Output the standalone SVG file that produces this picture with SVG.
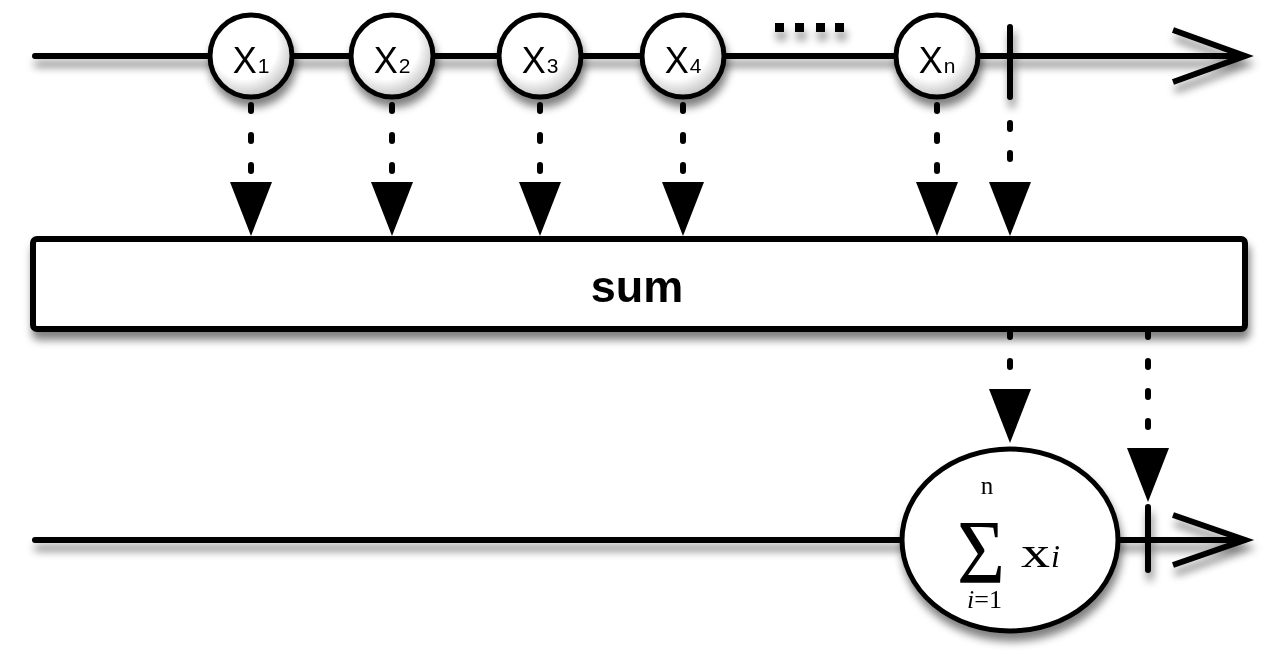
<svg xmlns="http://www.w3.org/2000/svg" width="1280" height="660" viewBox="0 0 1280 660">
<style>
.line{stroke:#000;stroke-width:6;fill:none;stroke-linecap:round}
.chev{stroke:#000;stroke-width:6;fill:none;stroke-linejoin:miter;stroke-linecap:butt}
.node{fill:url(#ball);stroke:#000;stroke-width:5}
.lbl{font-family:"Liberation Sans",Arial,sans-serif;fill:#000}
.dash{stroke:#000;stroke-width:6;fill:none;stroke-linecap:round;stroke-dasharray:6 24}
.serif{font-family:"Liberation Serif","Times New Roman",serif;fill:#000}
</style>
<defs>
<filter id="shadow" x="-20%" y="-40%" width="140%" height="200%">
<feGaussianBlur in="SourceAlpha" stdDeviation="4"/>
<feOffset dx="2" dy="8" result="b"/>
<feComponentTransfer><feFuncA type="linear" slope="0.5"/></feComponentTransfer>
<feMerge><feMergeNode/><feMergeNode in="SourceGraphic"/></feMerge>
</filter>
<radialGradient id="ball" cx="0.42" cy="0.38" r="0.62">
<stop offset="0" stop-color="#fff"/>
<stop offset="0.65" stop-color="#fff"/>
<stop offset="1" stop-color="#c4c4c4"/>
</radialGradient>
<marker id="tri" markerUnits="userSpaceOnUse" markerWidth="54" markerHeight="42" viewBox="0 0 54 42" refX="0" refY="21" orient="auto">
<path d="M0,0 L54,21 L0,42 Z" fill="#000"/>
</marker>
</defs>
<rect width="1280" height="660" fill="#fff"/>

<g id="source-timeline" filter="url(#shadow)">
<line class="line" x1="35" y1="56" x2="1244" y2="56"/>
<polyline class="chev" points="1173,30 1245,56 1173,82"/>
<line class="line" x1="1010" y1="27" x2="1010" y2="97"/>
<g fill="#000">
<rect x="775" y="23" width="9" height="9"/>
<rect x="795" y="23" width="9" height="9"/>
<rect x="816" y="23" width="9" height="9"/>
<rect x="835" y="23" width="9" height="9"/>
</g>
</g>

<g id="connectors">
<line class="dash" x1="251" y1="105" x2="251" y2="182" marker-end="url(#tri)"/>
<line class="dash" x1="392" y1="105" x2="392" y2="182" marker-end="url(#tri)"/>
<line class="dash" x1="540" y1="105" x2="540" y2="182" marker-end="url(#tri)"/>
<line class="dash" x1="683" y1="105" x2="683" y2="182" marker-end="url(#tri)"/>
<line class="dash" x1="937" y1="105" x2="937" y2="182" marker-end="url(#tri)"/>
<line class="dash" x1="1010" y1="123" x2="1010" y2="182" marker-end="url(#tri)"/>
<line class="dash" x1="1010" y1="331" x2="1010" y2="389" marker-end="url(#tri)"/>
<line class="dash" x1="1148" y1="331" x2="1148" y2="448" marker-end="url(#tri)"/>
</g>

<g id="x1" filter="url(#shadow)">
<circle class="node" cx="251" cy="56" r="41"/>
<text class="lbl" x="251" y="73" text-anchor="middle"><tspan font-size="36">X</tspan><tspan font-size="21" dx="1">1</tspan></text>
</g>
<g id="x2" filter="url(#shadow)">
<circle class="node" cx="392" cy="56" r="41"/>
<text class="lbl" x="392" y="73" text-anchor="middle"><tspan font-size="36">X</tspan><tspan font-size="21" dx="1">2</tspan></text>
</g>
<g id="x3" filter="url(#shadow)">
<circle class="node" cx="540" cy="56" r="41"/>
<text class="lbl" x="540" y="73" text-anchor="middle"><tspan font-size="36">X</tspan><tspan font-size="21" dx="1">3</tspan></text>
</g>
<g id="x4" filter="url(#shadow)">
<circle class="node" cx="683" cy="56" r="41"/>
<text class="lbl" x="683" y="73" text-anchor="middle"><tspan font-size="36">X</tspan><tspan font-size="21" dx="1">4</tspan></text>
</g>
<g id="xn" filter="url(#shadow)">
<circle class="node" cx="937" cy="56" r="41"/>
<text class="lbl" x="937" y="73" text-anchor="middle"><tspan font-size="36">X</tspan><tspan font-size="21" dx="1">n</tspan></text>
</g>

<g id="sum-operator" filter="url(#shadow)">
<rect x="33" y="239" width="1212" height="90" rx="4" fill="#fff" stroke="#000" stroke-width="6"/>
<text class="lbl" x="637" y="302" font-size="45" font-weight="bold" text-anchor="middle">sum</text>
</g>

<g id="result-timeline" filter="url(#shadow)">
<line class="line" x1="35" y1="540" x2="1244" y2="540"/>
<polyline class="chev" points="1173,515 1245,540 1173,565"/>
<line class="line" x1="1148" y1="507" x2="1148" y2="570"/>
</g>

<g id="result" filter="url(#shadow)">
<ellipse cx="1010" cy="540" rx="108" ry="91" fill="#fff" stroke="#000" stroke-width="5"/>
<text class="serif" x="987" y="494" font-size="25" text-anchor="middle">n</text>
<text class="serif" x="957" y="583" font-size="92" textLength="48" lengthAdjust="spacingAndGlyphs">Σ</text>
<text class="serif" x="1021" y="567" font-size="44" textLength="29" lengthAdjust="spacingAndGlyphs">x</text>
<text class="serif" x="1051" y="567" font-size="32" font-style="italic">i</text>
<text class="serif" x="967" y="608" font-size="26"><tspan font-style="italic">i</tspan>=1</text>
</g>
</svg>
